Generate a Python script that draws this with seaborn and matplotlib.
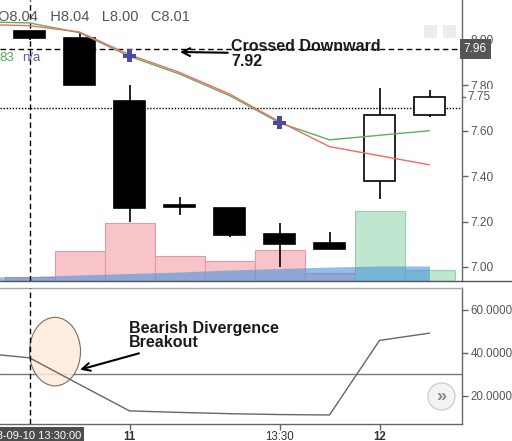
import matplotlib
matplotlib.use('Agg')
import matplotlib.pyplot as plt
import matplotlib.transforms as mtransforms
from matplotlib.patches import Ellipse, Rectangle
from matplotlib.lines import Line2D
import seaborn as sns
import pandas as pd

# === Dados do gráfico ===
candle_idx = [0, 1, 2, 3, 4, 5, 6, 7, 8]
opens = [8.04, 8.01, 7.73, 7.275, 7.26, 7.145, 7.105, 7.38, 7.67]
highs = [8.04, 8.03, 7.80, 7.31, 7.26, 7.195, 7.155, 7.79, 7.78]
lows = [8.00, 7.80, 7.20, 7.23, 7.13, 7.00, 7.08, 7.30, 7.66]
closes = [8.01, 7.80, 7.26, 7.262, 7.14, 7.10, 7.08, 7.67, 7.75]
volumes = [8, 60, 116, 50, 40, 62, 16, 140, 22]

line_idx = [-1, 0, 1, 2, 3, 4, 5, 6, 7, 8]
ma_green = [8.08, 8.075, 8.032, 7.928, 7.85, 7.755, 7.635, 7.56, 7.58, 7.60]
ma_red = [8.068, 8.063, 8.035, 7.935, 7.857, 7.762, 7.64, 7.53, 7.49, 7.45]
vol_ma = [8, 9, 12, 15, 18, 22, 25, 28, 30, 30]
indicator = [40, 37.7, 25.3, 13, 12.3, 11.7, 11.3, 11.1, 45.8, 49.2]

cross_idx = [2, 5]
cross_price = [7.93, 7.635]

price_ticks = [7.00, 7.20, 7.40, 7.60, 7.80, 8.00]
ind_ticks = [20, 40, 60]
time_ticks = [2, 5, 7]
time_labels = ['11', '13:30', '12']
cursor_idx = 0
cursor_price = 7.96
cursor_time = '2018-09-10 13:30:00'
last_line = 7.70
last_close = 7.75
level = 30

W, H = 512, 441

df = pd.DataFrame({'i': candle_idx, 'o': opens, 'h': highs, 'l': lows,
                   'c': closes, 'v': volumes})
df['bear'] = df['c'] < df['o']
lines = pd.DataFrame({'i': line_idx, 'green': ma_green, 'red': ma_red,
                      'vma': vol_ma, 'ind': indicator})

sns.set_theme(style='white')
plt.rcParams['font.family'] = ['Liberation Sans', 'DejaVu Sans']

fig = plt.figure(figsize=(W / 100, H / 100), dpi=100)


def rect(top, bottom, right=462):
    return [0, 1 - bottom / H, right / W, (bottom - top) / H]


xlim = (-0.59, 8.65)

# === Volume (atrás) ===
ax_vol = fig.add_axes(rect(0, 281))
ax_vol.bar(df['i'], df['v'], width=1.0,
           color=['#f7c4c9' if b else '#bfe6cf' for b in df['bear']],
           edgecolor=['#e59aa3' if b else '#95cfac' for b in df['bear']],
           linewidth=0.8)
ax_vol.fill_between(lines['i'], 0, lines['vma'], color='#4a94dc', alpha=0.6,
                    linewidth=0)
ax_vol.set_xlim(*xlim)
ax_vol.set_ylim(0, 562)
ax_vol.axis('off')

# === Preço ===
ax = fig.add_axes(rect(0, 281))
ax.patch.set_visible(False)
ax.set_xlim(*xlim)
ax.set_ylim(6.938, 8.176)

ax.vlines(df['i'], df['l'], df['h'], color='black', linewidth=1.2, zorder=2)
ax.bar(df['i'], (df['c'] - df['o']).abs(), bottom=df[['o', 'c']].min(axis=1),
       width=0.62, color=['black' if b else 'white' for b in df['bear']],
       edgecolor='black', linewidth=1.2, zorder=3)

sns.lineplot(data=lines, x='i', y='green', ax=ax, color='#5fae5f', linewidth=1, zorder=4)
sns.lineplot(data=lines, x='i', y='red', ax=ax, color='#f06a6a', linewidth=1, zorder=4)
sns.scatterplot(x=cross_idx, y=cross_price, ax=ax, marker='P', s=90,
                color='#4b4b9e', edgecolor='none', zorder=5)

ax.axhline(cursor_price, color='black', linewidth=1, linestyle=(0, (4, 2.5)), zorder=1)
ax.axhline(last_line, color='black', linewidth=1, linestyle=(0, (1, 1.2)), zorder=1)
ax.axvline(cursor_idx, color='black', linewidth=1, linestyle=(0, (4, 2.5)), zorder=1)

ax.set_xlabel('')
ax.set_ylabel('')
ax.set_xticks([])
ax.yaxis.tick_right()
ax.set_yticks(price_ticks, [f'{t:.2f}' for t in price_ticks])
ax.tick_params(axis='y', direction='out', length=4, width=1, color='#666',
               labelsize=8.6, labelcolor='#555', pad=2, right=True)
for s in ['left', 'top', 'bottom']:
    ax.spines[s].set_visible(False)
ax.spines['right'].set_color('#666')
ax.spines['right'].set_linewidth(1)

ybl = mtransforms.blended_transform_factory(ax.transAxes, ax.transData)
ax.text(1.012, last_close, f'{last_close:.2f}', transform=ybl, va='center',
        ha='left', fontsize=8.6, color='#555', clip_on=False, zorder=6,
        bbox=dict(boxstyle='square,pad=0.15', fc='white', ec='none'))
ax.plot([1.0, 1.009], [last_close, last_close], transform=ybl, color='#666',
        linewidth=1, clip_on=False)
ax.text(1.004, cursor_price, f'{cursor_price:.2f}', transform=ybl, va='center',
        ha='left', fontsize=8.6, color='white', clip_on=False, zorder=6,
        bbox=dict(boxstyle='square,pad=0.3', fc='#555555', ec='none'))

ax.annotate('Crossed Downward\n7.92', xy=(3.01, 7.947), xytext=(4.03, 8.004),
            ha='left', va='top', fontsize=11.5, fontweight='bold',
            linespacing=1.0, color='#1a1a1a',
            arrowprops=dict(arrowstyle='->', color='black', lw=1.5,
                            shrinkA=0, shrinkB=0, mutation_scale=14))

ax.text(-0.004, 0.94, 'O8.04   H8.04   L8.00   C8.01', transform=ax.transAxes,
        fontsize=10.5, color='#555', va='center', ha='left')
ax.text(-0.002, 0.793, '83', transform=ax.transAxes, fontsize=9.5,
        color='#4caf50', va='center')
ax.text(0.047, 0.793, 'n/a', transform=ax.transAxes, fontsize=9.5,
        color='#5a5ab4', va='center')
for xl in [424, 443]:
    ax.add_patch(Rectangle((xl / 462, 1 - 38 / 281), 13 / 462, 13 / 281,
                           transform=ax.transAxes, fc='#ededed', ec='none'))

fig.add_artist(Line2D([0, 1], [1 - 281 / H] * 2, transform=fig.transFigure,
                      color='#555', linewidth=1))

# === Indicador ===
ax2 = fig.add_axes(rect(288, 424))
ax2.set_xlim(*xlim)
ax2.set_ylim(6.9, 70.2)
sns.lineplot(data=lines, x='i', y='ind', ax=ax2, color='#666', linewidth=1, zorder=4)
ax2.axhline(level, color='#777', linewidth=1, zorder=2)
ax2.axvline(cursor_idx, color='black', linewidth=1, linestyle=(0, (4, 2.5)), zorder=5)
ax2.add_patch(Ellipse((0.51, 40.6), 1.02, 31.9, fc='#fdebdc', ec='#6b5444',
                      lw=0.8, alpha=0.85, zorder=3))
ax2.annotate('Bearish Divergence\nBreakout', xy=(1.01, 32.2), xytext=(1.99, 55.0),
             ha='left', va='top', fontsize=11.5, fontweight='bold',
             linespacing=0.95, color='#1a1a1a',
             arrowprops=dict(arrowstyle='->', color='black', lw=1.5,
                             shrinkA=0, shrinkB=0, mutation_scale=14))

ax2.set_xlabel('')
ax2.set_ylabel('')
ax2.yaxis.tick_right()
ax2.set_yticks(ind_ticks, [f'{t:.4f}' for t in ind_ticks])
ax2.set_xticks(time_ticks, time_labels)
for lab in ax2.get_xticklabels():
    if lab.get_text() != '13:30':
        lab.set_fontweight('bold')
ax2.tick_params(axis='y', direction='out', length=4, width=1, color='#666',
                labelsize=8.3, labelcolor='#555', pad=2, right=True)
ax2.tick_params(axis='x', direction='out', length=4, width=1, color='#666',
                labelsize=8.3, labelcolor='#333', pad=1, bottom=True)
ax2.spines['left'].set_visible(False)
ax2.spines['top'].set_color('#aaa')
for s in ['right', 'bottom']:
    ax2.spines[s].set_color('#666')
    ax2.spines[s].set_linewidth(1)
ax2.spines['top'].set_linewidth(1)

xbl = mtransforms.blended_transform_factory(ax2.transData, ax2.transAxes)
ax2.text(cursor_idx, -0.085, cursor_time, transform=xbl, ha='center', va='center',
         fontsize=8, color='white', clip_on=False, zorder=6,
         bbox=dict(boxstyle='square,pad=0.3', fc='#4d4d4d', ec='none'))

ax2.scatter([441 / 462], [28 / 136], transform=ax2.transAxes, s=380,
            facecolor='#f3f3f3', edgecolor='#cfcfcf', linewidth=1, zorder=6)
ax2.text(441 / 462, 28 / 136, '»', transform=ax2.transAxes, ha='center',
         va='center', fontsize=13, color='#888', fontweight='bold', zorder=7)

fig.savefig('out.png', dpi=100)
